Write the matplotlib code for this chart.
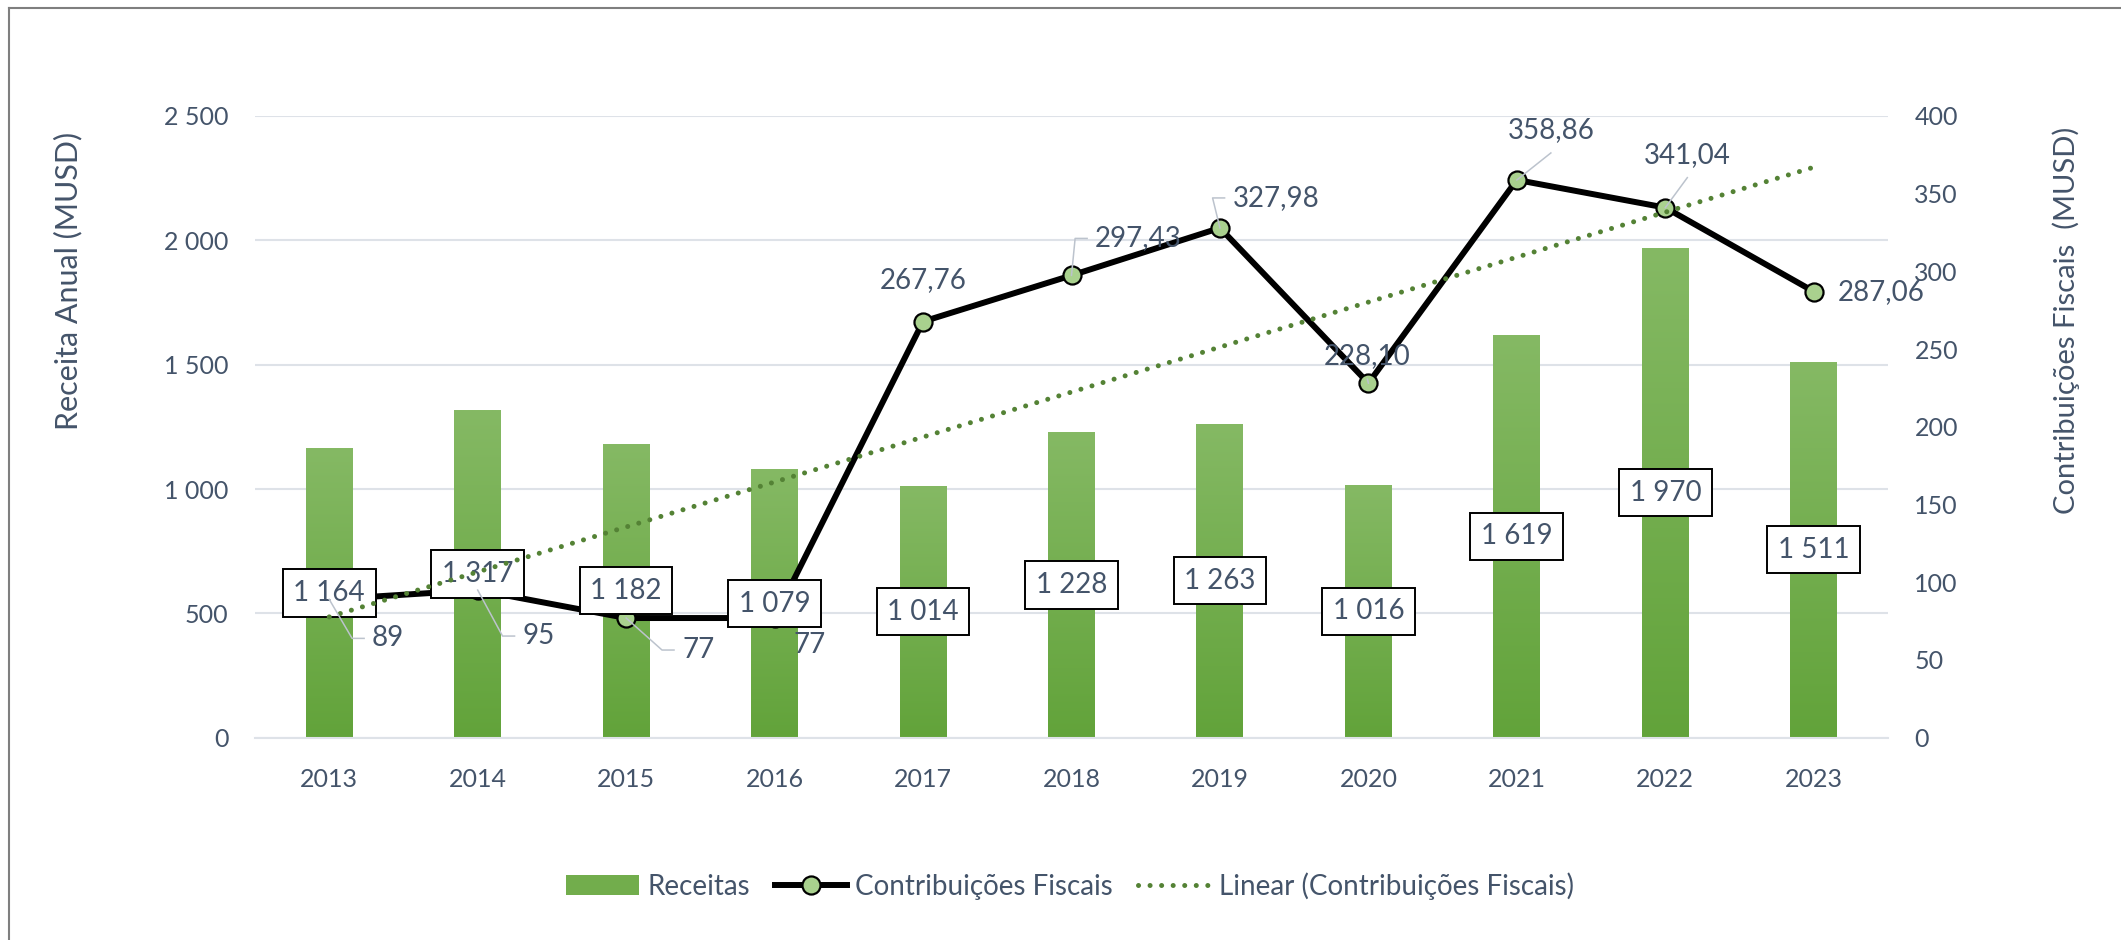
import matplotlib
matplotlib.use("Agg")
import matplotlib.pyplot as plt
import numpy as np
from matplotlib.colors import LinearSegmentedColormap
from matplotlib.lines import Line2D
from matplotlib.patches import Patch
from matplotlib.transforms import IdentityTransform

years = ["2013", "2014", "2015", "2016", "2017", "2018", "2019", "2020", "2021", "2022", "2023"]
receitas = [1164, 1317, 1182, 1079, 1014, 1228, 1263, 1016, 1619, 1970, 1511]
receitas_txt = ["1 164", "1 317", "1 182", "1 079", "1 014", "1 228", "1 263", "1 016", "1 619", "1 970", "1 511"]
contrib = [89, 95, 77, 77, 267.76, 297.43, 327.98, 228.10, 358.86, 341.04, 287.06]
contrib_txt = ["89", "95", "77", "77", "267,76", "297,43", "327,98", "228,10", "358,86", "341,04", "287,06"]
left_ticks = [0, 500, 1000, 1500, 2000, 2500]
left_ticklabels = ["0", "500", "1 000", "1 500", "2 000", "2 500"]
right_ticks = [0, 50, 100, 150, 200, 250, 300, 350, 400]

# where each line label sits (pixel offset from its point, up positive) and how its leader runs
lab_off = [(59, -39), (61, -46), (72, -32), (35, -27), (0, 41), (67, 37), (56, 30), (-1, 27), (34, 50), (22, 53), (67, -1)]
leader = ["side", "side", "side", None, None, "side", "side", "bottom", "bottom", "bottom", None]

TXT = "#44546A"
plt.rcParams["font.family"] = ["Lato", "DejaVu Sans"]

fig = plt.figure(figsize=(21.21, 9.40), dpi=100)
ax1 = fig.add_axes([255 / 2121, 0.2152, 1633 / 2121, 0.6614])
ax2 = ax1.twinx()

x = np.arange(len(years))

# bars with vertical gradient
bars = ax1.bar(x, receitas, width=0.316, color="none", edgecolor="none", zorder=2)
cmap = LinearSegmentedColormap.from_list("g", ["#62A33A", "#85B964"])
grad = np.linspace(0, 1, 256).reshape(-1, 1)
for b in bars:
    x0, w, h = b.get_x(), b.get_width(), b.get_height()
    im = ax1.imshow(grad, extent=[x0, x0 + w, 0, h], origin="lower", aspect="auto",
                    cmap=cmap, zorder=2)
    im.set_clip_path(b)

ax1.set_xlim(-0.5, len(years) - 0.5)
ax1.set_ylim(0, 2500)
ax1.set_yticks(left_ticks)
ax1.set_yticklabels(left_ticklabels)
ax1.set_xticks(x)
ax1.set_xticklabels(years)
ax1.yaxis.grid(True, color="#DEE2E8", lw=1.5, zorder=0)
ax1.set_axisbelow(True)
for s in ax1.spines.values():
    s.set_visible(False)
ax1.spines["bottom"].set_visible(True)
ax1.spines["bottom"].set_color("#DEE2E8")
ax1.spines["bottom"].set_linewidth(1.5)
ax1.tick_params(axis="both", length=0, labelsize=18, labelcolor=TXT)
ax1.tick_params(axis="x", pad=22)
ax1.tick_params(axis="y", pad=19)

# secondary axis: line + trend
ax2.set_ylim(0, 400)
ax2.set_yticks(right_ticks)
for s in ax2.spines.values():
    s.set_visible(False)
ax2.tick_params(axis="y", length=0, labelsize=18, labelcolor=TXT, pad=19)

ax2.plot(x, contrib, color="black", lw=4.3, marker="o", markersize=13,
         markerfacecolor="#A9D18E", markeredgecolor="black", markeredgewidth=1.6, zorder=3)

# bar labels in boxes
for i, v in enumerate(receitas):
    ax2.text(x[i], v / 2, receitas_txt[i], transform=ax1.transData, ha="center", va="center",
             fontsize=20, color=TXT, zorder=5,
             bbox=dict(boxstyle="square,pad=0.38", fc="white", ec="black", lw=1.4))

# linear trend of the line series
k, c = np.polyfit(x, contrib, 1)
ax2.plot(x, k * x + c, color="#548235", lw=3.6, linestyle=(0, (0.01, 2.3)),
         dash_capstyle="round", zorder=6)

# line labels
labels = []
for i, v in enumerate(contrib):
    dx, dy = lab_off[i]
    t = ax2.annotate(contrib_txt[i], xy=(x[i], v), xytext=(dx, dy), textcoords="offset pixels",
                     ha="center", va="center", fontsize=20, color=TXT, zorder=7)
    labels.append(t)

fig.text(68 / 2121, 1 - 281 / 940, "Receita Anual (MUSD)", rotation=90, ha="center", va="center",
         fontsize=22, color=TXT)
fig.text(2066 / 2121, 1 - 320 / 940, "Contribuições Fiscais  (MUSD)", rotation=90, ha="center",
         va="center", fontsize=21, color=TXT)

handles = [
    Patch(facecolor="#72AD4C", edgecolor="none"),
    Line2D([], [], color="black", lw=4.3, marker="o", markersize=13,
           markerfacecolor="#A9D18E", markeredgecolor="black", markeredgewidth=1.6),
    Line2D([], [], color="#548235", lw=3.6, linestyle=(0, (0.01, 2.3)), dash_capstyle="round"),
]
fig.legend(handles, ["Receitas", "Contribuições Fiscais", "Linear (Contribuições Fiscais)"],
           loc="center", bbox_to_anchor=(1070 / 2121, 1 - 886 / 940), ncol=3, frameon=False,
           fontsize=20, labelcolor=TXT, handlelength=2.6, handletextpad=0.3, columnspacing=0.9)

# leader lines from points to their labels
fig.canvas.draw()
rend = fig.canvas.get_renderer()
for i, t in enumerate(labels):
    if leader[i] is None:
        continue
    bb = t.get_window_extent(rend)
    px, py = ax2.transData.transform((x[i], contrib[i]))
    cx, cy = (bb.x0 + bb.x1) / 2, (bb.y0 + bb.y1) / 2
    if leader[i] == "side":
        xs, ys = [px, bb.x0 - 20, bb.x0 - 8], [py, cy, cy]
    else:
        xs, ys = [px, cx], [py, cy - 23]
    fig.add_artist(Line2D(xs, ys, transform=IdentityTransform(), color="#BCC3CD", lw=1.1,
                          zorder=8))

# outer frame (top and left edge visible in the reference)
fig.add_artist(Line2D([9 / 2121, 9 / 2121], [0, 1 - 8 / 940], transform=fig.transFigure,
                      color="#7F7F7F", lw=1.5))
fig.add_artist(Line2D([9 / 2121, 1], [1 - 8 / 940, 1 - 8 / 940], transform=fig.transFigure,
                      color="#7F7F7F", lw=1.5))

fig.savefig("out.png", dpi=100)
